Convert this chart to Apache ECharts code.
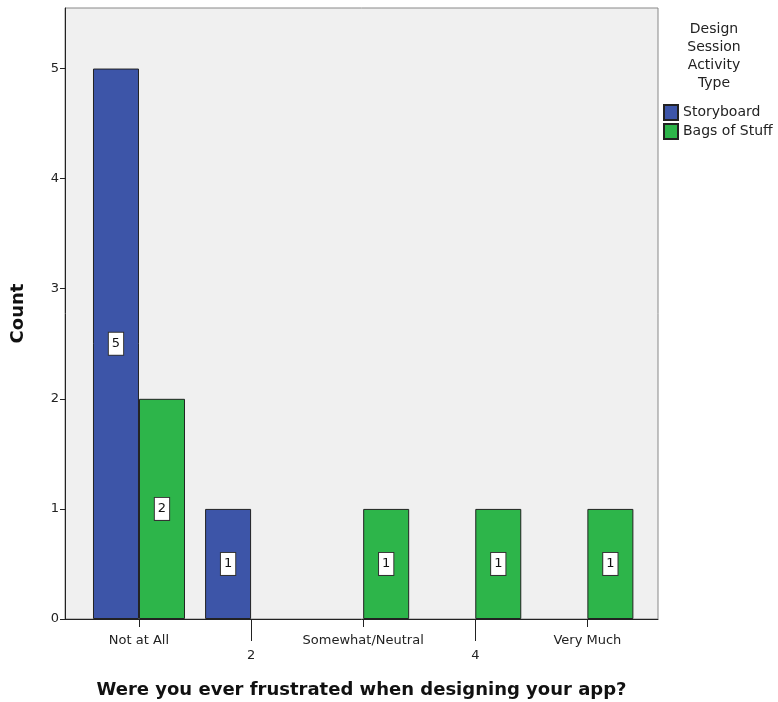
<!DOCTYPE html>
<html>
<head>
<meta charset="utf-8">
<script src="https://cdn.jsdelivr.net/npm/echarts@6/dist/echarts.min.js"></script>
<style>
  html, body { margin: 0; padding: 0; background: #fff; }
  #chart { width: 778px; height: 702px; }
</style>
</head>
<body>
<div id="chart"></div>
<script>
  // 数据
  const categories = ["Not at All", "2", "Somewhat/Neutral", "4", "Very Much"];
  const storyboard = [5, 1, null, null, null];
  const bagsOfStuff = [2, null, 1, 1, 1];
  const yTicks = [0, 1, 2, 3, 4, 5];

  const toPairs = arr => arr.map((v, i) => (v == null ? null : [i, v])).filter(p => p);

  const chart = echarts.init(document.getElementById("chart"));
  const font = "DejaVu Sans, sans-serif";

  const barLabel = {
    show: true,
    position: "inside",
    formatter: p => p.value[1],
    color: "#111",
    fontFamily: font,
    fontSize: 13,
    backgroundColor: "#fff",
    borderColor: "#333",
    borderWidth: 1,
    padding: [5, 3, 4, 3]
  };

  const option = {
    animation: false,
    textStyle: { fontFamily: font },
    title: {
      text: "Design\nSession\nActivity\nType",
      left: 709,
      top: 15,
      textAlign: "center",
      textStyle: { fontSize: 14, fontWeight: "normal", color: "#222", lineHeight: 18, fontFamily: font }
    },
    legend: {
      orient: "vertical",
      left: 658,
      top: 99,
      itemWidth: 14,
      itemHeight: 15,
      itemGap: 2,
      icon: "rect",
      textStyle: { fontSize: 14, color: "#222", fontFamily: font },
      data: ["Storyboard", "Bags of Stuff"]
    },
    grid: {
      left: 65, top: 8, right: 120, bottom: 83,
      outerBoundsMode: "none",
      containLabel: false,
      show: true,
      backgroundColor: "#f0f0f0",
      borderColor: "#888",
      borderWidth: 1
    },
    xAxis: [
      {
        type: "value",
        min: -0.66,
        max: 4.63,
        position: "bottom",
        name: "Were you ever frustrated when designing your app?",
        nameLocation: "middle",
        nameGap: 62,
        nameTextStyle: { fontSize: 18, fontWeight: "bold", color: "#111", fontFamily: font },
        splitLine: { show: false },
        axisLine: { show: true, onZero: false, lineStyle: { color: "#222", width: 1 } },
        axisTick: { show: true, customValues: [0, 2, 4], length: 8, lineStyle: { color: "#222" } },
        axisLabel: {
          customValues: [0, 2, 4],
          formatter: v => categories[v],
          margin: 15,
          fontSize: 13,
          color: "#222"
        }
      },
      {
        type: "value",
        min: -0.66,
        max: 4.63,
        position: "bottom",
        splitLine: { show: false },
        axisLine: { show: false, onZero: false },
        axisTick: { show: true, customValues: [1, 3], length: 22, lineStyle: { color: "#222" } },
        axisLabel: {
          customValues: [1, 3],
          formatter: v => categories[v],
          margin: 30,
          fontSize: 13,
          color: "#222"
        }
      }
    ],
    yAxis: {
      type: "value",
      min: 0,
      max: 5.55,
      interval: 1,
      name: "Count",
      nameLocation: "middle",
      nameGap: 38,
      nameTextStyle: { fontSize: 18, fontWeight: "bold", color: "#111", fontFamily: font },
      splitLine: { show: false },
      axisLine: { show: true, onZero: false, lineStyle: { color: "#222", width: 1 } },
      axisTick: { show: true, length: 5, lineStyle: { color: "#222" }, customValues: yTicks },
      axisLabel: { fontSize: 13, color: "#222", margin: 6, customValues: yTicks }
    },
    series: [
      {
        name: "Storyboard",
        type: "bar",
        xAxisIndex: 0,
        barWidth: 46,
        barGap: "0%",
        data: toPairs(storyboard),
        itemStyle: { color: "#3d55a8", borderColor: "#222", borderWidth: 1 },
        label: barLabel
      },
      {
        name: "Bags of Stuff",
        type: "bar",
        xAxisIndex: 0,
        barWidth: 46,
        barGap: "0%",
        data: toPairs(bagsOfStuff),
        itemStyle: { color: "#2db54a", borderColor: "#222", borderWidth: 1 },
        label: barLabel
      }
    ]
  };

  chart.setOption(option);
  window.addEventListener("resize", () => chart.resize());
</script>
</body>
</html>
